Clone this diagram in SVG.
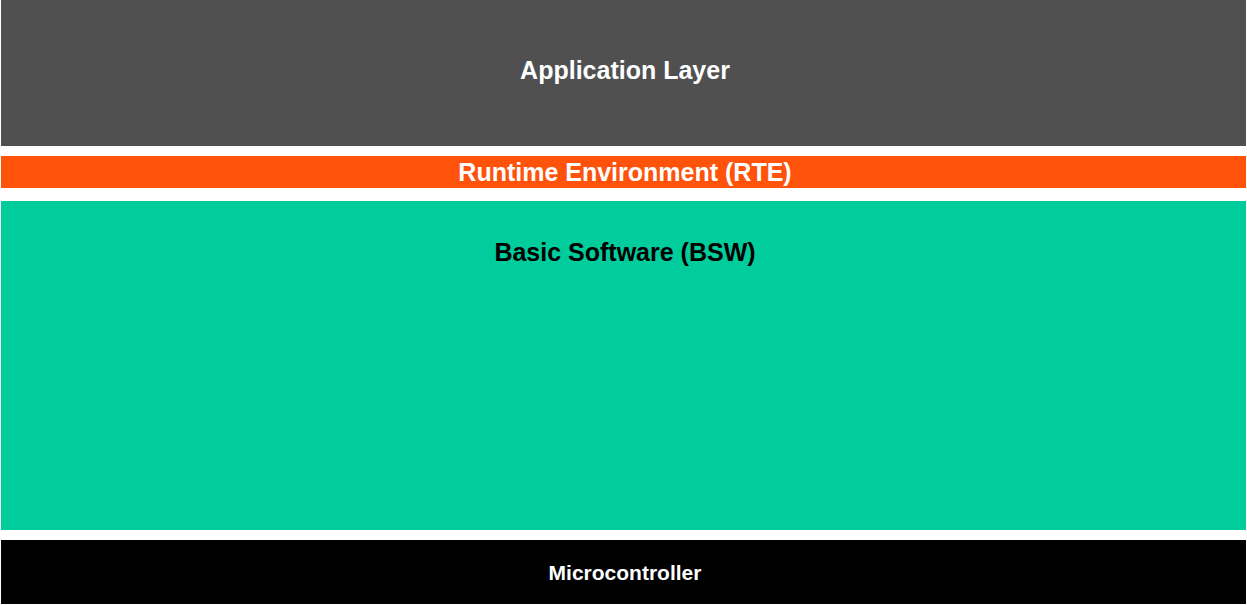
<svg xmlns="http://www.w3.org/2000/svg" width="1247" height="605" viewBox="0 0 1247 605">
<style>
text{font-family:"Liberation Sans",Arial,sans-serif;font-weight:bold;text-anchor:middle}
.w{fill:#ffffff}
.k{fill:#000000}
</style>
<rect x="0" y="0" width="1247" height="605" fill="#ffffff"/>
<g id="app">
<rect x="1" y="0" width="1245" height="146" fill="#505050"/>
<text class="w" x="625" y="79" font-size="25">Application Layer</text>
</g>
<g id="rte">
<rect x="1" y="156" width="1245" height="32" fill="#ff520a"/>
<text class="w" x="625" y="181" font-size="25">Runtime Environment (RTE)</text>
</g>
<g id="bsw">
<rect x="1" y="201" width="1245" height="329" fill="#00cc9c"/>
<text class="k" x="625" y="261" font-size="25">Basic Software (BSW)</text>
</g>
<g id="mcu">
<rect x="1" y="540" width="1245" height="64" fill="#000000"/>
<text class="w" x="625" y="580" font-size="21">Microcontroller</text>
</g>
<g id="connectors"/>
</svg>
